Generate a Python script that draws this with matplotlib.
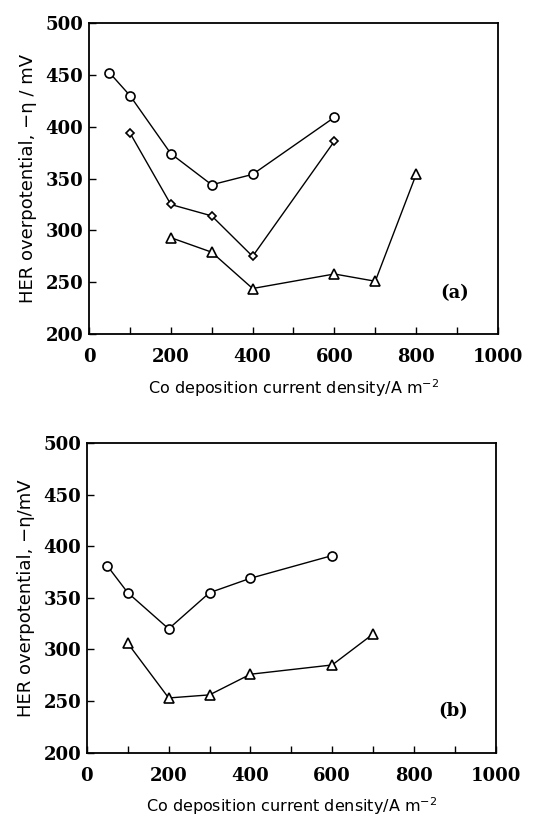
import matplotlib.pyplot as plt
from matplotlib.ticker import MultipleLocator

# panel (a)
a_circ_x = [50, 100, 200, 300, 400, 600]
a_circ_y = [452, 430, 374, 344, 354, 409]
a_diam_x = [100, 200, 300, 400, 600]
a_diam_y = [394, 325, 314, 275, 386]
a_tri_x = [200, 300, 400, 600, 700, 800]
a_tri_y = [293, 279, 244, 258, 251, 354]

# panel (b)
b_circ_x = [50, 100, 200, 300, 400, 600]
b_circ_y = [381, 355, 320, 355, 369, 391]
b_tri_x = [100, 200, 300, 400, 600, 700]
b_tri_y = [306, 253, 256, 276, 285, 315]

xlabel = 'Co deposition current density/A m$^{-2}$'
ylabels = ['HER overpotential, \u2212\u03b7 / mV', 'HER overpotential, \u2212\u03b7/mV']

fig = plt.figure(figsize=(5.43, 8.19), dpi=100)
ax1 = fig.add_axes([0.164, 0.592, 0.753, 0.380])
ax2 = fig.add_axes([0.160, 0.081, 0.753, 0.378])

line_kw = dict(color='black', lw=1.0, mfc='white', mec='black', mew=1.2)

ax1.plot(a_circ_x, a_circ_y, marker='o', ms=6.5, **line_kw)
ax1.plot(a_diam_x, a_diam_y, marker='D', ms=4.5, **line_kw)
ax1.plot(a_tri_x, a_tri_y, marker='^', ms=6.5, **line_kw)

ax2.plot(b_circ_x, b_circ_y, marker='o', ms=6.5, **line_kw)
ax2.plot(b_tri_x, b_tri_y, marker='^', ms=6.5, **line_kw)

for ax, tag, ylab in [(ax1, '(a)', ylabels[0]), (ax2, '(b)', ylabels[1])]:
    ax.set_xlim(0, 1000)
    ax.set_ylim(200, 500)
    ax.xaxis.set_major_locator(MultipleLocator(200))
    ax.xaxis.set_minor_locator(MultipleLocator(100))
    ax.yaxis.set_major_locator(MultipleLocator(50))
    ax.tick_params(which='both', direction='in', length=5, width=1)
    ax.tick_params(axis='x', pad=10)
    ax.tick_params(axis='y', pad=4)
    for lab in ax.get_xticklabels() + ax.get_yticklabels():
        lab.set_family('DejaVu Serif')
        lab.set_fontweight('bold')
        lab.set_fontsize(13)
    for s in ax.spines.values():
        s.set_linewidth(1.3)
    ax.set_xlabel(xlabel, fontsize=11.5, family='DejaVu Sans', labelpad=8)
    ax.set_ylabel(ylab, fontsize=13, family='DejaVu Sans', labelpad=6)
    ax.text(895, 240, tag, fontsize=13, family='DejaVu Serif',
            fontweight='bold', ha='center', va='center')

fig.savefig('out.png', dpi=100)
